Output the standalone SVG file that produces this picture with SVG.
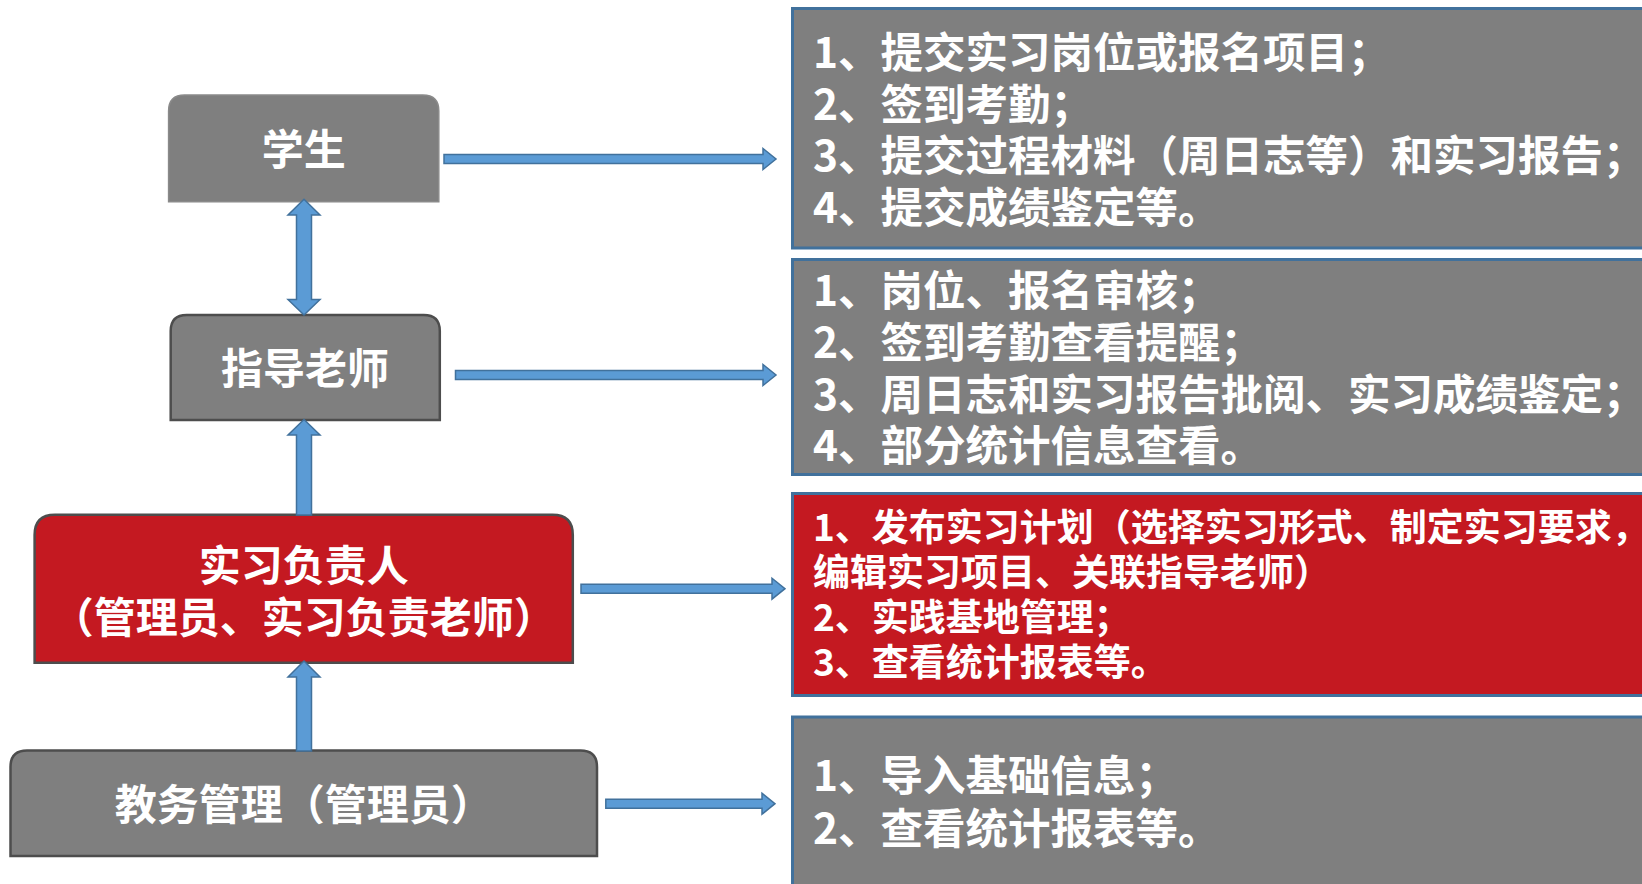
<svg xmlns="http://www.w3.org/2000/svg" width="1642" height="884" viewBox="0 0 1642 884">
<defs>
<style>
.node-gray{fill:#7f7f7f;stroke:#4d4d4d;stroke-width:2.5}
.node-student{fill:#7f7f7f;stroke:#8a8a8a;stroke-width:1.5}
.node-red{fill:#c41921;stroke:#4d4d4d;stroke-width:2.5}
.panel-gray{fill:#7f7f7f;stroke:#41719c;stroke-width:3}
.panel-red{fill:#c41921;stroke:#41719c;stroke-width:3}
.arrow{fill:#5b9bd5;stroke:#41719c;stroke-width:1.5;stroke-linejoin:miter}
.t{font-family:"Noto Sans CJK SC","Microsoft YaHei",sans-serif;font-weight:bold;fill:#ffffff}
.tn{font-size:42px;text-anchor:middle}
.tp{font-size:42.5px}
.tr{font-size:37px}
</style>
</defs>
<rect width="1642" height="884" fill="#ffffff"/>

<g id="panel-student">
<rect class="panel-gray" x="792.5" y="8.5" width="870" height="239.5"/>
<text class="t tp" x="813" y="68"><tspan x="813" y="68">1、提交实习岗位或报名项目；</tspan><tspan x="813" y="119.5">2、签到考勤；</tspan><tspan x="813" y="171">3、提交过程材料（周日志等）和实习报告；</tspan><tspan x="813" y="222.5">4、提交成绩鉴定等。</tspan></text>
</g>

<g id="panel-teacher">
<rect class="panel-gray" x="792.5" y="259.5" width="870" height="215"/>
<text class="t tp" x="813" y="306"><tspan x="813" y="306">1、岗位、报名审核；</tspan><tspan x="813" y="358">2、签到考勤查看提醒；</tspan><tspan x="813" y="409.5">3、周日志和实习报告批阅、实习成绩鉴定；</tspan><tspan x="813" y="461">4、部分统计信息查看。</tspan></text>
</g>

<g id="panel-manager">
<rect class="panel-red" x="792.5" y="493.5" width="870" height="202"/>
<text class="t tr" x="813" y="541"><tspan x="813" y="541">1、发布实习计划（选择实习形式、制定实习要求，</tspan><tspan x="813" y="586">编辑实习项目、关联指导老师）</tspan><tspan x="813" y="631">2、实践基地管理；</tspan><tspan x="813" y="676">3、查看统计报表等。</tspan></text>
</g>

<g id="panel-admin">
<rect class="panel-gray" x="792.5" y="717" width="870" height="200"/>
<text class="t tp" x="813" y="791"><tspan x="813" y="791">1、导入基础信息；</tspan><tspan x="813" y="844">2、查看统计报表等。</tspan></text>
</g>

<g id="node-student">
<path class="node-student" d="M168.6,201.7 V111 Q168.6,95 184.6,95 H422.8 Q438.8,95 438.8,111 V201.7 Z"/>
<text class="t tn" x="303.7" y="165">学生</text>
</g>

<g id="node-teacher">
<path class="node-gray" d="M170.7,420 V331 Q170.7,315 186.7,315 H423.8 Q439.8,315 439.8,331 V420 Z"/>
<text class="t tn" x="305" y="384">指导老师</text>
</g>

<g id="node-manager">
<path class="node-red" d="M34.6,662.7 V535 Q34.6,514.7 54.9,514.7 H552.5 Q572.8,514.7 572.8,535 V662.7 Z"/>
<text class="t tn" x="303.7" y="581"><tspan x="303.7" y="581">实习负责人</tspan><tspan x="303.7" y="633">（管理员、实习负责老师）</tspan></text>
</g>

<g id="node-admin">
<path class="node-gray" d="M10.5,856 V767 Q10.5,750.5 27,750.5 H580.5 Q597,750.5 597,767 V856 Z"/>
<text class="t tn" x="303.7" y="820">教务管理（管理员）</text>
</g>

<g id="connectors">
<path class="arrow" d="M444,154.5 H763 V148.5 L776,159 L763,169.5 V163.5 H444 Z"/>
<path class="arrow" d="M455.5,370.5 H763 V364.5 L776,375 L763,385.5 V379.5 H455.5 Z"/>
<path class="arrow" d="M581,584.2 H772 V578.2 L785,588.7 L772,599.2 V593.2 H581 Z"/>
<path class="arrow" d="M605.8,799.2 H762 V793.2 L775,803.7 L762,814.2 V808.2 H605.8 Z"/>
<path class="arrow" d="M304,199.3 L320,215 H311.5 V299.5 H320 L304,315 L288,299.5 H296.5 V215 H288 Z"/>
<path class="arrow" d="M304,419.5 L320,435 H311.5 V515 H296.5 V435 H288 Z"/>
<path class="arrow" d="M304,661 L320,677 H311.5 V751 H296.5 V677 H288 Z"/>
</g>
</svg>
